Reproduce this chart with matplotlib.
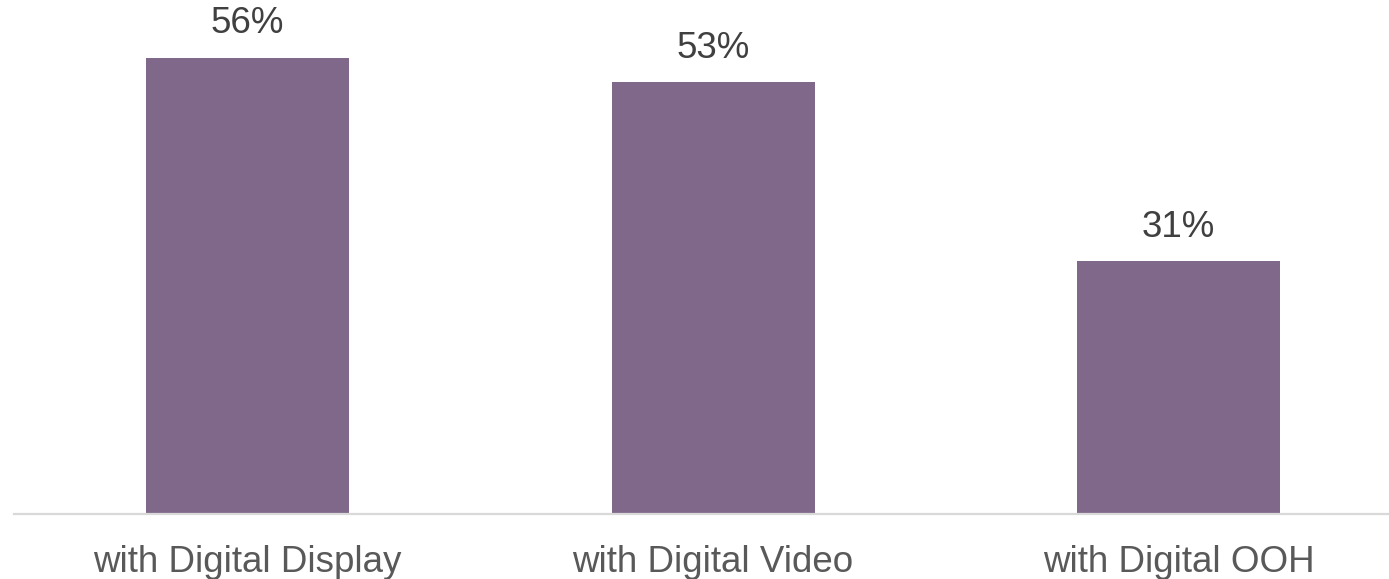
import matplotlib
matplotlib.use("Agg")
import matplotlib.pyplot as plt

# share of respondents per digital channel
categories = ["with Digital Display", "with Digital Video", "with Digital OOH"]
values = [56, 53, 31]
value_labels = ["56%", "53%", "31%"]

plt.rcParams["font.family"] = ["Liberation Sans", "DejaVu Sans"]

fig = plt.figure(figsize=(13.89, 5.79), dpi=100)
ax = fig.add_axes([14 / 1389, 65 / 579, 1375 / 1389, 514 / 579])

x = range(len(categories))
bars = ax.bar(x, values, width=0.436, color="#80688a", zorder=2)

for rect, lab in zip(bars, value_labels):
    ax.annotate(lab, (rect.get_x() + rect.get_width() / 2, rect.get_height()),
                xytext=(0, 12), textcoords="offset points",
                ha="center", va="bottom", fontsize=26.5, color="#404040")

ax.set_xlim(-0.5016, 2.452)
ax.set_ylim(0, 63.1)
ax.set_xticks(list(x))
ax.set_xticklabels(categories, fontsize=26.5, color="#595959")
ax.tick_params(axis="x", length=0, pad=22)
ax.set_yticks([])

for side in ("top", "right", "left"):
    ax.spines[side].set_visible(False)
ax.spines["bottom"].set_color("#d9d9d9")
ax.spines["bottom"].set_linewidth(1.6)

fig.savefig("out.png", dpi=100)
